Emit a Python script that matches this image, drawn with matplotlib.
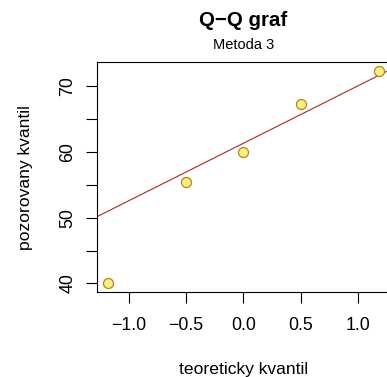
import numpy as np
import matplotlib
matplotlib.use("Agg")
import matplotlib.pyplot as plt

plt.rcParams['font.family'] = ['Liberation Sans', 'DejaVu Sans']

# teoreticke kvantily (normalni rozdeleni, n = 5) a pozorovane hodnoty
teor = [-1.18, -0.50, 0.0, 0.50, 1.18]
pozor = [40.0, 55.4, 60.0, 67.2, 72.3]
q_teor = [-0.674, 0.674]  # kvartily N(0,1) pro qqline

fig = plt.figure(figsize=(3.87, 3.77), dpi=100)
ax = fig.add_axes([0.2506, 0.2255, 0.757, 0.6092])

ax.scatter(teor, pozor, s=52, facecolor='#FFEE85', edgecolor='#B8860B',
           linewidth=0.9, zorder=3)
ax.margins(x=0.04, y=0.04)

# qqline: primka pres kvartily
y25, y75 = np.percentile(pozor, [25, 75])
slope = (y75 - y25) / (q_teor[1] - q_teor[0])
icpt = y25 - slope * q_teor[0]
ax.axline((0, icpt), slope=slope, color='#B22222', linewidth=0.8, zorder=2)

ax.set_xticks([-1.0, -0.5, 0.0, 0.5, 1.0])
ax.set_xticklabels(['\u22121.0', '\u22120.5', '0.0', '0.5', '1.0'])
ax.set_yticks([40, 45, 50, 55, 60, 65, 70])
ax.set_yticklabels(['40', '', '50', '', '60', '', '70'], rotation=90, va='center')
ax.tick_params(axis='both', length=8, width=0.8, labelsize=12.8)
ax.tick_params(axis='x', pad=10)
ax.tick_params(axis='y', pad=7)
for s in ax.spines.values():
    s.set_linewidth(0.8)

ax.set_xlabel('teoreticky kvantil', fontsize=12.6)
ax.xaxis.set_label_coords(0.5, -0.305)
ax.set_ylabel('pozorovany kvantil', fontsize=12.6)
ax.yaxis.set_label_coords(-0.218, 0.5)

fig.text(0.629, 0.945, 'Q\u2212Q graf', fontsize=14.8, fontweight='bold',
         ha='center', va='center')
fig.text(0.629, 0.881, 'Metoda 3', fontsize=10.5, ha='center', va='center')

fig.savefig('out.png', dpi=100)
